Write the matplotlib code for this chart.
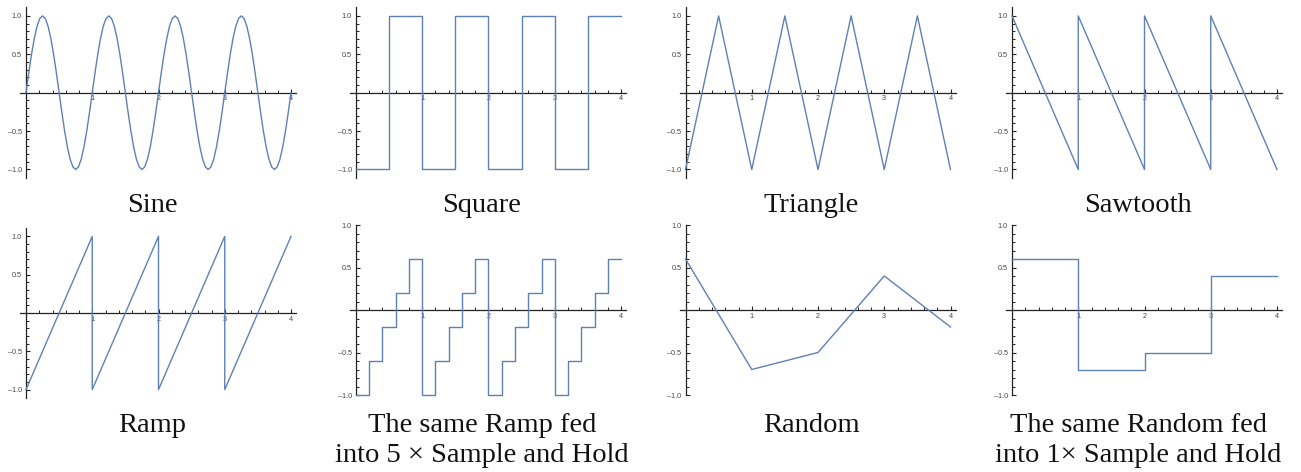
import numpy as np
import matplotlib
matplotlib.use("Agg")
import matplotlib.pyplot as plt

# ---------------- data ----------------
# one cycle of the sine at 1/24-cycle steps
sine_cycle = [0.0, 0.259, 0.5, 0.707, 0.866, 0.966, 1.0, 0.966, 0.866, 0.707, 0.5, 0.259,
              0.0, -0.259, -0.5, -0.707, -0.866, -0.966, -1.0, -0.966, -0.866, -0.707, -0.5, -0.259, 0.0]
n_cycles = 4

square_x = [0, 0.5, 1, 1.5, 2, 2.5, 3, 3.5, 4]
square_y = [-1, 1, -1, 1, -1, 1, -1, 1, 1]

triangle_x = [0, 0.5, 1, 1.5, 2, 2.5, 3, 3.5, 4]
triangle_y = [-1, 1, -1, 1, -1, 1, -1, 1, -1]

sawtooth_x = [0, 1, 1, 2, 2, 3, 3, 4]
sawtooth_y = [1, -1, 1, -1, 1, -1, 1, -1]

ramp_x = [0, 1, 1, 2, 2, 3, 3, 4]
ramp_y = [-1, 1, -1, 1, -1, 1, -1, 1]

sh_ramp_levels = [-1.0, -0.6, -0.2, 0.2, 0.6]   # held levels per cycle (5 samples)

random_x = [0, 1, 2, 3, 4]
random_y = [0.6, -0.7, -0.5, 0.4, -0.2]

sh_random_x = [0, 1, 2, 3, 4]
sh_random_y = [0.6, -0.7, -0.5, 0.4, 0.4]

titles = ["Sine", "Square", "Triangle", "Sawtooth",
          "Ramp", "The same Ramp fed\ninto 5 \u00d7 Sample and Hold",
          "Random", "The same Random fed\ninto 1\u00d7 Sample and Hold"]

x_ticks = [1, 2, 3, 4]
x_labels = ["1", "2", "3", "4"]
y_ticks = [-1.0, -0.5, 0.5, 1.0]
y_labels = ["\u20131.0", "\u20130.5", "0.5", "1.0"]

# ---------------- build series ----------------
sine_y = np.concatenate([np.tile(sine_cycle[:-1], n_cycles), sine_cycle[-1:]])
sine_x = np.linspace(0, n_cycles, len(sine_y))
sh_ramp_y = np.concatenate([np.tile(sh_ramp_levels, n_cycles), sh_ramp_levels[-1:]])
sh_ramp_x = np.linspace(0, n_cycles, len(sh_ramp_y))

series = [
    (sine_x, sine_y, "default"),
    (square_x, square_y, "steps-post"),
    (triangle_x, triangle_y, "default"),
    (sawtooth_x, sawtooth_y, "default"),
    (ramp_x, ramp_y, "default"),
    (sh_ramp_x, sh_ramp_y, "steps-post"),
    (random_x, random_y, "default"),
    (sh_random_x, sh_random_y, "steps-post"),
]

# ---------------- layout (pixels) ----------------
W, H = 1301, 472
fig = plt.figure(figsize=(W / 100, H / 100), dpi=100)

col_x0 = [26, 356, 685.5, 1012]    # pixel of x=0
sx = 66.25                          # px per x unit
# per panel: (pixel of y=0, px per y unit, ymin, ymax)
row_top = (92.7, 76.8, -1.11, 1.11)
ramp_row = (313, 76.6, -1.11, 1.11)
sh_row = (310, 85.0, -1.0, 1.0)
panel_y = [row_top] * 4 + [ramp_row, sh_row, sh_row, sh_row]
xmin, xmax = -0.09, 4.08

line_color = "#5E81B5"
axis_color = "#222222"
label_color = "#444444"

title_dx = [126, 126, 126, 126]
baselines_top = [211.5]
baselines_bot = [431.5, 461.5]

for i, (xs, ys, ds) in enumerate(series):
    col = i % 4
    row = i // 4
    y0, sy, ymin, ymax = panel_y[i]
    x0 = col_x0[col]
    left = x0 + sx * xmin
    right = x0 + sx * xmax
    top = y0 - sy * ymax
    bottom = y0 - sy * ymin
    ax = fig.add_axes([left / W, 1 - bottom / H, (right - left) / W, (bottom - top) / H])
    ax.set_xlim(xmin, xmax)
    ax.set_ylim(ymin, ymax)
    ax.patch.set_alpha(0)
    for s in ["top", "right"]:
        ax.spines[s].set_visible(False)
    ax.spines["left"].set_position(("data", 0))
    ax.spines["bottom"].set_position(("data", 0))
    for s in ["left", "bottom"]:
        ax.spines[s].set_color(axis_color)
        ax.spines[s].set_linewidth(0.9)
    ax.set_xticks(x_ticks)
    ax.set_xticklabels(x_labels)
    ax.set_xticks([k / 5 for k in range(1, 20) if k % 5 != 0], minor=True)
    ax.set_yticks(y_ticks)
    ax.set_yticklabels(y_labels)
    ax.set_yticks([k / 10 for k in range(-10, 11) if k % 5 != 0 and abs(k / 10) <= ymax], minor=True)
    ax.tick_params(which="major", direction="in", length=3.2, width=0.8, color=axis_color,
                   labelsize=5.2, labelcolor=label_color, pad=2.0)
    ax.tick_params(which="minor", direction="in", length=2.0, width=0.7, color=axis_color)
    ax.tick_params(axis="y", which="major", pad=3.0)
    for lab in ax.get_xticklabels() + ax.get_yticklabels():
        lab.set_family("Liberation Sans")
    ax.plot(xs, ys, color=line_color, lw=1.0, drawstyle=ds, clip_on=False, zorder=3)

    # title
    cx = x0 + title_dx[col]
    lines = titles[i].split("\n")
    bases = baselines_top if row == 0 else baselines_bot
    for j, t in enumerate(lines):
        fig.text(cx / W, 1 - bases[j] / H, t, ha="center", va="baseline",
                 fontsize=20.5, family="Liberation Serif", color="#111111")

fig.savefig("out.png", dpi=100)
